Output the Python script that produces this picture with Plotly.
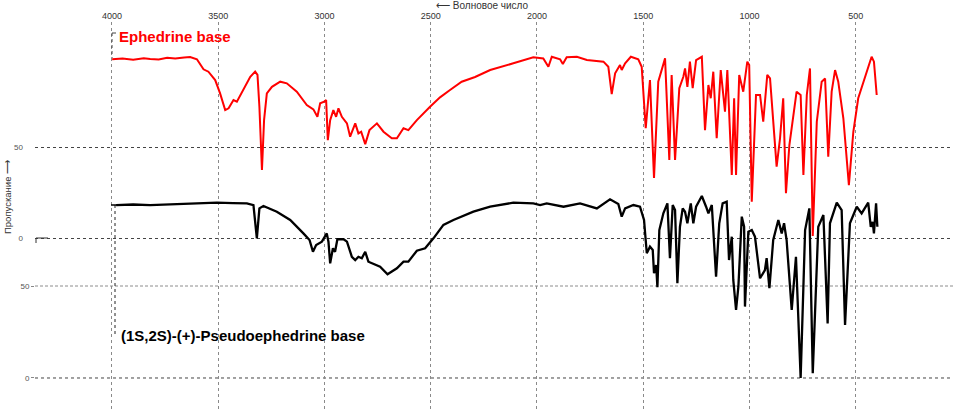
import plotly.graph_objects as go

# ---- data (wavenumber cm-1, transmittance %) ----
x_ticks = [4000, 3500, 3000, 2500, 2000, 1500, 1000, 500]
x_ticktext = ["4000", "3500", "3000", "2500", "2000", "1500", "1000", "500"]
y_ticks = [0, 50]
y_ticktext = ["0", "50"]

eph_wn = [3999, 3950, 3900, 3850, 3820, 3780, 3740, 3702, 3660, 3632,
          3600, 3569, 3546, 3514, 3491, 3467, 3451, 3428, 3412, 3381,
          3349, 3326, 3315, 3306, 3294, 3284, 3271, 3247, 3208, 3177,
          3130, 3083, 3052, 3033, 3020, 3001, 2992, 2984, 2973, 2958,
          2945, 2934, 2918, 2894, 2879, 2855, 2840, 2827, 2808, 2788,
          2753, 2722, 2683, 2659, 2628, 2605, 2565, 2503, 2456, 2409,
          2354, 2291, 2220, 2111, 2017, 1970, 1946, 1930, 1891, 1878,
          1860, 1812, 1765, 1687, 1664, 1648, 1632, 1609, 1601, 1585,
          1558, 1523, 1507, 1488, 1468, 1449, 1429, 1397, 1377, 1366,
          1350, 1330, 1311, 1303, 1292, 1280, 1267, 1251, 1224, 1209,
          1193, 1182, 1170, 1154, 1135, 1115, 1104, 1083, 1072, 1063,
          1048, 1029, 1010, 1001, 989, 969, 950, 935, 916, 903,
          872, 856, 841, 828, 812, 778, 759, 746, 730, 715,
          702, 683, 660, 644, 629, 613, 597, 582, 558, 532,
          511, 488, 456, 425, 414, 401]
eph_T = [98.2, 98.6, 98.0, 98.8, 98.4, 98.1, 99.0, 98.6, 99.2, 99.5,
         98.2, 92.7, 91.4, 86.8, 79.5, 70.3, 71.3, 75.8, 74.9, 81.3,
         88.6, 91.4, 89.6, 72.1, 37.4, 64.8, 79.5, 83.1, 85.9, 85.0,
         80.4, 73.1, 70.7, 66.6, 74.0, 74.9, 75.8, 53.8, 64.8, 70.3,
         66.6, 71.3, 66.6, 63.0, 55.7, 63.0, 57.5, 58.4, 51.6, 59.3,
         63.0, 58.4, 54.8, 54.8, 60.3, 59.3, 64.8, 72.1, 77.3, 81.3,
         85.9, 88.5, 92.3, 96.0, 99.3, 98.7, 94.1, 99.6, 98.2, 95.6,
         99.3, 99.6, 97.8, 96.9, 94.1, 79.1, 90.5, 95.1, 92.3, 96.0,
         99.6, 98.2, 94.1, 60.3, 86.8, 33.0, 85.9, 98.7, 42.9, 89.6,
         42.9, 82.3, 88.6, 93.2, 83.1, 96.9, 82.3, 97.8, 99.6, 59.3,
         84.1, 76.8, 91.4, 54.8, 92.3, 69.4, 92.3, 34.6, 76.8, 34.6,
         89.6, 80.4, 96.9, 95.1, 19.9, 78.6, 78.6, 63.9, 89.6, 87.7,
         39.2, 54.8, 76.8, 24.6, 51.1, 80.4, 78.6, 34.6, 78.6, 93.2,
         1.1, 63.9, 85.9, 87.7, 44.7, 80.4, 92.3, 85.9, 65.8, 29.1,
         58.4, 76.8, 88.6, 99.6, 96.9, 78.6]

pse_wn = [3980, 3900, 3820, 3741, 3650, 3580, 3506, 3430, 3365, 3334,
          3318, 3306, 3287, 3224, 3161, 3099, 3070, 3054, 3039, 3012,
          2989, 2981, 2973, 2960, 2950, 2939, 2910, 2894, 2871, 2855,
          2840, 2824, 2808, 2793, 2738, 2703, 2659, 2628, 2605, 2565,
          2526, 2487, 2440, 2393, 2299, 2220, 2111, 2017, 1985, 1954,
          1875, 1797, 1718, 1656, 1617, 1601, 1585, 1546, 1515, 1496,
          1483, 1468, 1455, 1449, 1439, 1433, 1424, 1405, 1386, 1374,
          1361, 1350, 1339, 1327, 1314, 1303, 1292, 1276, 1264, 1251,
          1224, 1204, 1193, 1177, 1157, 1142, 1126, 1107, 1096, 1083,
          1076, 1063, 1052, 1036, 1025, 1021, 1005, 989, 974, 950,
          927, 919, 906, 888, 864, 848, 837, 825, 801, 781,
          759, 738, 718, 702, 676, 652, 632, 621, 589, 566,
          550, 527, 495, 472, 441, 429, 420, 414, 404, 398]
pse_T = [94.0, 94.3, 94.0, 94.4, 94.8, 95.0, 95.3, 95.1, 94.9, 94.0,
         75.9, 92.2, 93.5, 90.4, 85.9, 78.6, 75.0, 68.6, 72.3, 74.1,
         78.6, 74.1, 62.3, 70.5, 68.6, 75.4, 75.4, 74.1, 65.9, 64.1,
         65.9, 65.1, 68.6, 63.2, 60.5, 56.4, 59.6, 63.2, 63.2, 69.2,
         70.5, 75.9, 83.2, 85.9, 90.4, 93.1, 95.3, 94.9, 94.0, 94.9,
         93.1, 94.9, 92.2, 97.1, 94.6, 87.7, 92.2, 94.0, 93.1, 85.9,
         67.8, 71.4, 69.6, 56.9, 61.4, 49.3, 80.4, 89.5, 94.9, 65.1,
         94.0, 91.3, 51.5, 82.2, 92.2, 90.4, 84.1, 94.9, 84.1, 93.1,
         98.9, 93.1, 89.5, 94.0, 55.1, 84.1, 94.9, 95.8, 64.1, 76.8,
         53.3, 37.0, 49.6, 87.7, 82.2, 38.8, 79.5, 80.4, 76.8, 54.2,
         58.7, 65.1, 48.8, 75.0, 85.9, 78.6, 84.1, 75.0, 37.0, 65.9,
         0.0, 80.4, 92.2, 2.6, 82.2, 88.6, 29.7, 84.1, 95.3, 91.3,
         28.8, 84.1, 93.1, 89.5, 95.3, 82.2, 84.9, 78.6, 94.9, 82.2]

FONT = "Liberation Sans, Arial, sans-serif"

fig = go.Figure()
fig.add_trace(go.Scatter(x=eph_wn, y=eph_T, mode="lines", yaxis="y",
                         line=dict(color="#ff0000", width=2), showlegend=False))
fig.add_trace(go.Scatter(x=pse_wn, y=pse_T, mode="lines", yaxis="y2",
                         line=dict(color="#000000", width=2.3), showlegend=False))

fig.update_layout(
    width=953, height=410,
    margin=dict(l=35, r=0, t=22, b=0, autoexpand=False),
    paper_bgcolor="white", plot_bgcolor="white",
    font=dict(family=FONT, color="#333"),
    xaxis=dict(range=[4362, 42], side="top", tickvals=x_ticks, ticktext=x_ticktext,
               tickfont=dict(size=9, color="#333"), ticks="", showline=False,
               zeroline=False, showgrid=True, gridcolor="#8a8a8a", griddash="dot",
               gridwidth=1, ticklabelstandoff=0, automargin=False),
    yaxis=dict(range=[-94.5, 118.7], tickvals=y_ticks, ticktext=y_ticktext,
               tickfont=dict(size=8, color="#555"), ticks="", showline=False,
               zeroline=False, showgrid=True, gridcolor="#444", griddash="dot",
               gridwidth=1, ticklabelstandoff=11, automargin=False),
    yaxis2=dict(range=[-17.4, 193.5], overlaying="y", side="left",
                tickvals=y_ticks, ticktext=y_ticktext,
                tickfont=dict(size=8, color="#555"), ticks="outside", ticklen=3,
                tickcolor="#888", showline=False, zeroline=False, showgrid=False,
                ticklabelstandoff=0, automargin=False),
)

def px(xp):
    return (xp - 35) / 918.0

def py(yp):
    return (410 - yp) / 388.0

annotations = [
    dict(text="⟵ Волновое число", x=px(482), y=py(6), xref="paper", yref="paper",
         showarrow=False, font=dict(size=10, color="#333"), xanchor="center", yanchor="middle"),
    dict(text="Пропускание ⟶", textangle=-90, x=px(8), y=py(197), xref="paper",
         yref="paper", showarrow=False, font=dict(size=9.5, color="#333"),
         xanchor="center", yanchor="middle"),
    dict(text="<b>Ephedrine base</b>", x=px(117), y=py(37), xref="paper", yref="paper",
         showarrow=False, font=dict(size=15, color="#ff0000"), xanchor="left", yanchor="middle"),
    dict(text="<b>(1S,2S)-(+)-Pseudoephedrine base</b>", x=px(119), y=py(335),
         xref="paper", yref="paper", showarrow=False,
         font=dict(size=15, color="#000"), xanchor="left", yanchor="middle"),
]
fig.update_layout(annotations=annotations)

shapes = [
    # lower-spectrum horizontal grid lines
    dict(type="line", xref="paper", yref="y2", x0=0, x1=1, y0=y_ticks[0], y1=y_ticks[0],
         line=dict(color="#444", width=1, dash="dot"), layer="below"),
    dict(type="line", xref="paper", yref="y2", x0=0, x1=1, y0=y_ticks[1], y1=y_ticks[1],
         line=dict(color="#8c8c8c", width=1, dash="3px,2px"), layer="below"),
    # leader line for red label
    dict(type="line", xref="paper", yref="paper", x0=px(112), x1=px(112),
         y0=py(33), y1=py(58), line=dict(color="#444", width=1, dash="dot")),
    dict(type="line", xref="paper", yref="paper", x0=px(112), x1=px(116),
         y0=py(33), y1=py(33), line=dict(color="#444", width=1)),
    # leader line for black label
    dict(type="line", xref="paper", yref="paper", x0=px(115), x1=px(115),
         y0=py(205), y1=py(334), line=dict(color="#222", width=1, dash="dot")),
    dict(type="line", xref="paper", yref="paper", x0=px(111), x1=px(117),
         y0=py(205), y1=py(205), line=dict(color="#000", width=1.5)),
    # small bracket near upper zero
    dict(type="path", xref="paper", yref="paper",
         path=f"M {px(36)} {py(243)} L {px(36)} {py(238)} L {px(48)} {py(238)}",
         line=dict(color="#333", width=1)),
]
fig.update_layout(shapes=shapes)

fig.write_html("out.html", config={"displayModeBar": False},
               post_script="document.body.style.margin='0';document.body.style.overflow='hidden';")
